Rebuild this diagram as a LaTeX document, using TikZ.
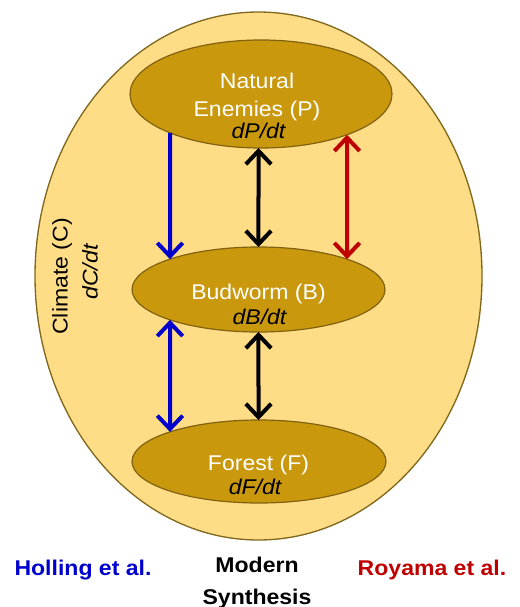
\documentclass[tikz,border=0pt]{standalone}
\usepackage{fontspec}
\setmainfont[FakeStretch=1.08]{Liberation Sans}
\usetikzlibrary{shapes.geometric,arrows.meta,intersections}
\definecolor{bigfill}{RGB}{255,221,135}
\definecolor{bigline}{RGB}{128,104,28}
\definecolor{gold}{RGB}{201,152,12}
\definecolor{goldline}{RGB}{128,98,16}
\definecolor{myblue}{RGB}{0,0,204}
\definecolor{myred}{RGB}{192,0,0}
\tikzset{
  climate/.style={ellipse, draw=bigline, line width=1pt, fill=bigfill,
    minimum width=335.25pt, minimum height=396pt, inner sep=0pt, outer sep=0pt},
  var/.style={ellipse, draw=goldline, line width=0.9pt, fill=gold, inner sep=0pt, outer sep=0pt},
  lbl/.style={font=\fontsize{16}{19}\selectfont, text=white, inner sep=0pt, anchor=base},
  rate/.style={font=\fontsize{16}{19}\selectfont\itshape, text=black, inner sep=0pt, anchor=base},
  ctext/.style={font=\fontsize{16}{19}\selectfont, text=black, inner sep=0pt, anchor=base, rotate=90},
  author/.style={font=\fontsize{16}{24}\selectfont\bfseries, inner sep=0pt, anchor=base, align=center},
  barb/.tip={Straight Barb[length=10pt,width=19pt]},
  oneway/.style={line width=3pt, -barb},
  twoway/.style={line width=3pt, barb-barb}
}
\begin{document}
\begin{tikzpicture}[x=0.75pt,y=-0.75pt]
\useasboundingbox (0,0) rectangle (519,607);
\node[climate] (C) at (258.5,276) {};
\node[var, name path=P, minimum width=196.5pt, minimum height=81pt] (P) at (261,94) {};
\node[var, name path=B, minimum width=189.75pt, minimum height=63.75pt] (B) at (258.5,289.5) {};
\node[var, name path=F, minimum width=190.5pt, minimum height=62.25pt] (F) at (259,461.5) {};

\node[lbl] (Pt1) at (257,88) {Natural};
\node[lbl] (Pt2) at (257,116) {Enemies (P)};
\node[rate] (Pr) at (258.5,138) {dP/dt};
\node[lbl] (Bt) at (258.5,299.5) {Budworm (B)};
\node[rate] (Br) at (259.5,324.5) {dB/dt};
\node[lbl] (Ft) at (258.5,470.5) {Forest (F)};
\node[rate] (Fr) at (255,494.5) {dF/dt};

\node[ctext] (Ct) at (67.5,276.5) {Climate (C)};
\node[ctext, font=\fontsize{16}{19}\selectfont\itshape] (Cr) at (97.5,272) {dC/dt};

% vertical guide lines for the connectors
\path[name path=vL] (170,0) -- (170,607);
\path[name path=vM] (258.5,0) -- (258.5,607);
\path[name path=vR] (347,0) -- (347,607);
\path[name intersections={of=vL and P, sort by=vL, by={pl1,pl2}}];
\path[name intersections={of=vL and B, sort by=vL, by={bl1,bl2}}];
\path[name intersections={of=vL and F, sort by=vL, by={fl1,fl2}}];
\path[name intersections={of=vM and P, sort by=vM, by={pm1,pm2}}];
\path[name intersections={of=vM and B, sort by=vM, by={bm1,bm2}}];
\path[name intersections={of=vM and F, sort by=vM, by={fm1,fm2}}];
\path[name intersections={of=vR and P, sort by=vR, by={pr1,pr2}}];
\path[name intersections={of=vR and B, sort by=vR, by={br1,br2}}];

\draw[oneway, myblue] (pl2) -- (bl1);
\draw[twoway, black] (pm2) -- (bm1);
\draw[twoway, myred] (pr2) -- (br1);
\draw[twoway, myblue] (bl2) -- (fl1);
\draw[twoway, black] (bm2) -- (fm1);

\node[author, text=myblue] (H) at (83,575.5) {Holling et al.};
\node[author, text=black] (M) at (257,604.5) {Modern\\Synthesis};
\node[author, text=myred] (R) at (432,575.5) {Royama et al.};
\end{tikzpicture}
\end{document}
